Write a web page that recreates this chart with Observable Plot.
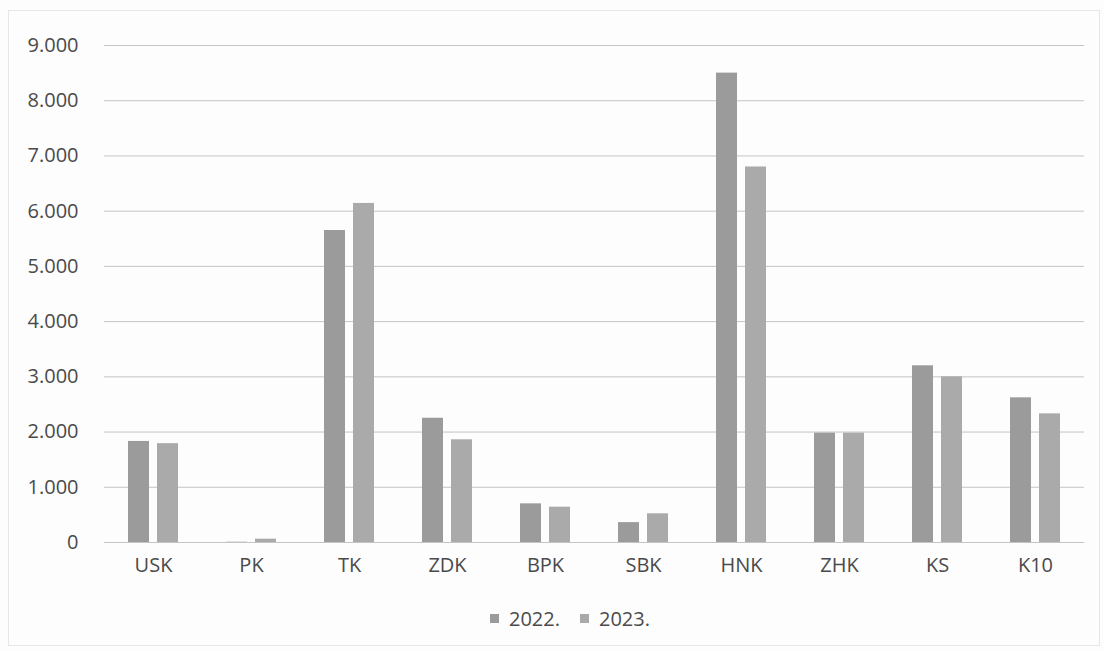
<!DOCTYPE html>
<html>
<head>
<meta charset="utf-8">
<script src="https://cdn.jsdelivr.net/npm/d3@7"></script>
<script src="https://cdn.jsdelivr.net/npm/@observablehq/plot@0.6"></script>
<style>
  html, body { margin: 0; padding: 0; background: #fdfdfd; }
  #wrap { position: relative; width: 1104px; height: 651px; overflow: hidden; }
  #frame { position: absolute; left: 8px; top: 10px; width: 1090px; height: 634px; border: 1px solid #e6e6e6; pointer-events: none; }
  #chart { position: absolute; left: 0; top: 0; }
  #legend { position: absolute; left: 28px; top: 602px; width: 1104px; display: flex; justify-content: center; }
</style>
</head>
<body>
<div id="wrap">
  <div id="frame"></div>
  <div id="chart"></div>
  <div id="legend"></div>
</div>
<script>
const categories = ["USK", "PK", "TK", "ZDK", "BPK", "SBK", "HNK", "ZHK", "KS", "K10"];
const years = ["2022.", "2023."];
const values2022 = [1830, 5, 5650, 2250, 700, 360, 8500, 1980, 3200, 2620];
const values2023 = [1790, 60, 6140, 1860, 640, 520, 6800, 1980, 3000, 2330];
const yTicks = [0, 1000, 2000, 3000, 4000, 5000, 6000, 7000, 8000, 9000];
const barColors = ["#9b9b9b", "#aaaaaa"];

const data = [];
categories.forEach((c, i) => {
  data.push({category: c, year: years[0], value: values2022[i]});
  data.push({category: c, year: years[1], value: values2023[i]});
});

const fmt = d3.formatLocale({decimal: ",", thousands: ".", grouping: [3], currency: ["", ""]}).format(",");

const chart = Plot.plot({
  width: 1104,
  height: 585,
  marginLeft: 101,
  marginRight: 17,
  marginTop: 45,
  marginBottom: 43,
  style: {fontFamily: "'Open Sans', sans-serif", fontSize: "20px", color: "#4a4a4a", background: "transparent"},
  fx: {domain: categories, padding: 0, label: null, axis: "bottom", tickSize: 0, tickPadding: 15},
  x: {domain: years, axis: null, paddingInner: 0.27, paddingOuter: 0.78},
  y: {domain: [0, 9000], ticks: yTicks, tickFormat: fmt, label: null, tickSize: 0, tickPadding: 26},
  color: {domain: years, range: barColors},
  marks: [
    Plot.ruleY(yTicks, {stroke: "#c4c4c4", strokeWidth: 1}),
    Plot.barY(data, {fx: "category", x: "year", y: "value", fill: "year"})
  ]
});
document.getElementById("chart").appendChild(chart);

const legend = Plot.legend({
  color: {type: "ordinal", domain: years, range: barColors},
  swatchSize: 9,
  style: {fontFamily: "'Open Sans', sans-serif", fontSize: "20px", color: "#4a4a4a", background: "transparent"}
});
document.getElementById("legend").appendChild(legend);
</script>
</body>
</html>
